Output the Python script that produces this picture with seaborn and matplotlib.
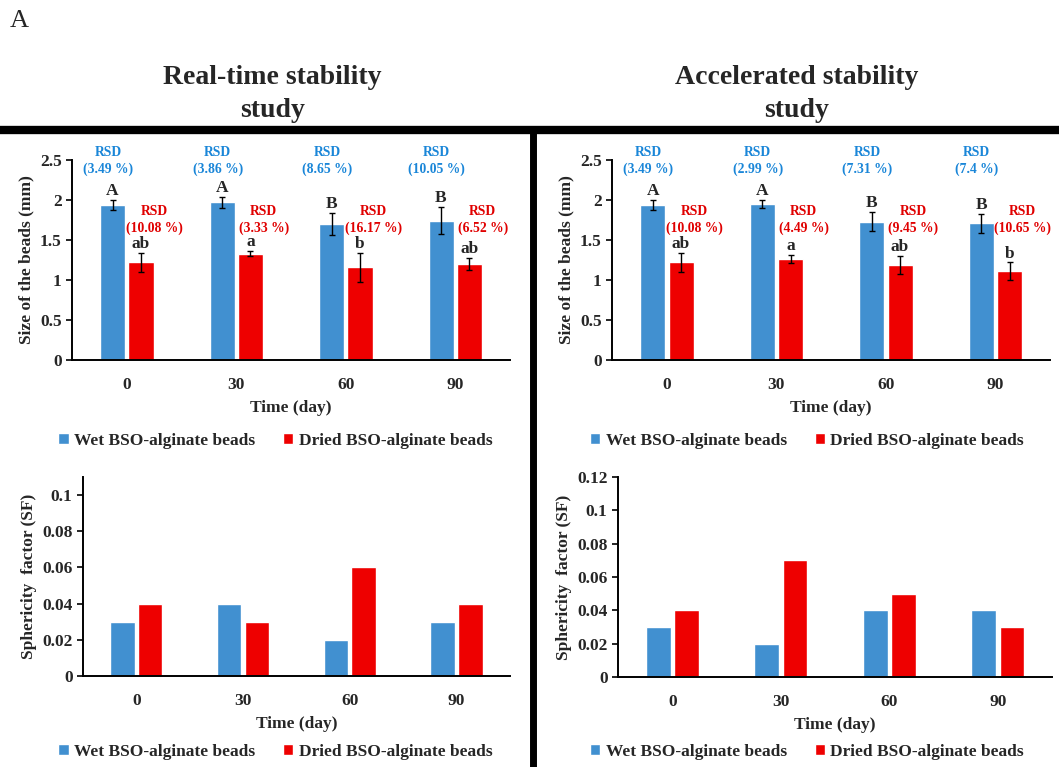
import pandas as pd
import seaborn as sns
import matplotlib.pyplot as plt
from matplotlib.lines import Line2D
from matplotlib.patches import Patch

# data
days = ['0', '30', '60', '90']
groups = ['Wet BSO-alginate beads', 'Dried BSO-alginate beads']

rt_wet = [1.94, 1.97, 1.70, 1.74]
rt_wet_err = [0.06, 0.07, 0.14, 0.17]
rt_dry = [1.22, 1.33, 1.16, 1.20]
rt_dry_err = [0.12, 0.03, 0.18, 0.08]
rt_wet_rsd = ['3.49', '3.86', '8.65', '10.05']
rt_dry_rsd = ['10.08', '3.33', '16.17', '6.52']
rt_wet_let = ['A', 'A', 'B', 'B']
rt_dry_let = ['ab', 'a', 'b', 'ab']

ac_wet = [1.94, 1.95, 1.73, 1.71]
ac_wet_err = [0.06, 0.05, 0.12, 0.12]
ac_dry = [1.22, 1.26, 1.19, 1.11]
ac_dry_err = [0.12, 0.05, 0.11, 0.11]
ac_wet_rsd = ['3.49', '2.99', '7.31', '7.4']
ac_dry_rsd = ['10.08', '4.49', '9.45', '10.65']
ac_wet_let = ['A', 'A', 'B', 'B']
ac_dry_let = ['ab', 'a', 'ab', 'b']

rt_sf_wet = [0.03, 0.04, 0.02, 0.03]
rt_sf_dry = [0.04, 0.03, 0.06, 0.04]
ac_sf_wet = [0.03, 0.02, 0.04, 0.04]
ac_sf_dry = [0.04, 0.07, 0.05, 0.03]

BLUE = '#4190d0'
RED = '#ee0000'
RSD_BLUE = '#1a86d8'
RSD_RED = '#e00000'

sns.set_style('white')
plt.rcParams['font.family'] = ['Liberation Serif', 'DejaVu Serif']
plt.rcParams['font.weight'] = 'bold'

fig = plt.figure(figsize=(10.59, 7.67), dpi=100)


def long_df(wet, dry):
    return pd.DataFrame({
        'Time': days * 2,
        'Value': list(wet) + list(dry),
        'Type': [groups[0]] * 4 + [groups[1]] * 4,
    })


def draw_bars(ax, wet, dry):
    sns.barplot(data=long_df(wet, dry), x='Time', y='Value', hue='Type',
                palette=[BLUE, RED], width=0.52, gap=0.12, errorbar=None,
                saturation=1, ax=ax, legend=False)
    for s in ['top', 'right']:
        ax.spines[s].set_visible(False)
    for s in ['left', 'bottom']:
        ax.spines[s].set_color('black')
        ax.spines[s].set_linewidth(1.4)
    ax.tick_params(axis='x', length=0, labelsize=12.5, pad=12)
    ax.tick_params(axis='y', length=4, width=1.2, color='black', labelsize=12.5, left=True)
    for lab in ax.get_xticklabels() + ax.get_yticklabels():
        lab.set_fontweight('bold')
    ax.set_xlabel('Time (day)', fontsize=12.5, fontweight='bold', labelpad=5)
    ax.set_xlim(-0.5, 3.5)


def add_legend(ax, x, y):
    handles = [Patch(facecolor=BLUE), Patch(facecolor=RED)]
    ax.legend(handles, groups, loc='center', bbox_to_anchor=(x, y),
              bbox_transform=fig.transFigure, ncol=2, frameon=False,
              handlelength=0.6, handleheight=0.6, handletextpad=0.3,
              columnspacing=1.6, prop={'weight': 'bold', 'size': 12.5})


def size_panel(rect, wet, wet_err, dry, dry_err, wet_rsd, dry_rsd, wet_let, dry_let):
    ax = fig.add_axes(rect)
    draw_bars(ax, wet, dry)
    ax.set_ylim(0, 2.5)
    ax.set_yticks([0, 0.5, 1, 1.5, 2, 2.5])
    ax.set_yticklabels(['0', '0.5', '1', '1.5', '2', '2.5'])
    ax.set_ylabel('Size of the beads (mm)', fontsize=12.5, fontweight='bold', labelpad=4)
    wet_bars = ax.containers[0]
    dry_bars = ax.containers[1]
    for i in range(4):
        xw = wet_bars[i].get_x() + wet_bars[i].get_width() / 2
        xd = dry_bars[i].get_x() + dry_bars[i].get_width() / 2
        ax.errorbar(xw, wet[i], yerr=wet_err[i], color='black', capsize=2.5,
                    elinewidth=1, capthick=1)
        ax.errorbar(xd, dry[i], yerr=dry_err[i], color='black', capsize=2.5,
                    elinewidth=1, capthick=1)
        ax.text(xw, wet[i] + wet_err[i] + 0.01, wet_let[i], ha='center', va='bottom',
                fontsize=12.5, fontweight='bold')
        ax.text(xd, dry[i] + dry_err[i] + 0.01, dry_let[i], ha='center', va='bottom',
                fontsize=12.5, fontweight='bold')
        ax.text(xw - 0.04, 2.49, 'RSD\n(%s %%)' % wet_rsd[i], ha='center', va='center',
                fontsize=9.8, fontweight='bold', color=RSD_BLUE, clip_on=False,
                linespacing=1.3)
        ax.text(xd + 0.12, 1.75, 'RSD\n(%s %%)' % dry_rsd[i], ha='center', va='center',
                fontsize=9.8, fontweight='bold', color=RSD_RED, clip_on=False,
                linespacing=1.3)
    return ax


def sf_panel(rect, wet, dry, ymax, ticks):
    ax = fig.add_axes(rect)
    draw_bars(ax, wet, dry)
    ax.set_ylim(0, ymax)
    ax.set_yticks(ticks)
    ax.set_yticklabels(['0' if t == 0 else ('%g' % t) for t in ticks])
    ax.set_ylabel('Sphericity  factor (SF)', fontsize=12.5, fontweight='bold', labelpad=4)
    return ax


ax1 = size_panel([0.068, 0.5306, 0.4136, 0.2608], rt_wet, rt_wet_err, rt_dry, rt_dry_err,
                 rt_wet_rsd, rt_dry_rsd, rt_wet_let, rt_dry_let)
ax2 = size_panel([0.578, 0.5306, 0.4136, 0.2608], ac_wet, ac_wet_err, ac_dry, ac_dry_err,
                 ac_wet_rsd, ac_dry_rsd, ac_wet_let, ac_dry_let)
ax3 = sf_panel([0.0784, 0.1186, 0.403, 0.2595], rt_sf_wet, rt_sf_dry, 0.11,
               [0, 0.02, 0.04, 0.06, 0.08, 0.1])
ax4 = sf_panel([0.5836, 0.1173, 0.41, 0.2608], ac_sf_wet, ac_sf_dry, 0.12,
               [0, 0.02, 0.04, 0.06, 0.08, 0.1, 0.12])

add_legend(ax1, 0.26, 0.425)
add_legend(ax2, 0.762, 0.425)
add_legend(ax3, 0.26, 0.0196)
add_legend(ax4, 0.762, 0.0196)

# column titles and separators
fig.text(0.257, 0.877, 'Real-time stability\nstudy', ha='center', va='center',
         fontsize=20, fontweight='bold', linespacing=1.42)
fig.text(0.752, 0.877, 'Accelerated stability\nstudy', ha='center', va='center',
         fontsize=20, fontweight='bold', linespacing=1.42)
fig.text(0.009, 0.972, 'A', ha='left', va='center', fontsize=19, fontweight='normal')
fig.add_artist(Line2D([0, 1], [1 - 130 / 767, 1 - 130 / 767], color='black', lw=6,
                      transform=fig.transFigure))
fig.add_artist(Line2D([533 / 1059, 533 / 1059], [0, 1 - 130 / 767], color='black', lw=5,
                      transform=fig.transFigure))

fig.savefig('out.png', dpi=100)
